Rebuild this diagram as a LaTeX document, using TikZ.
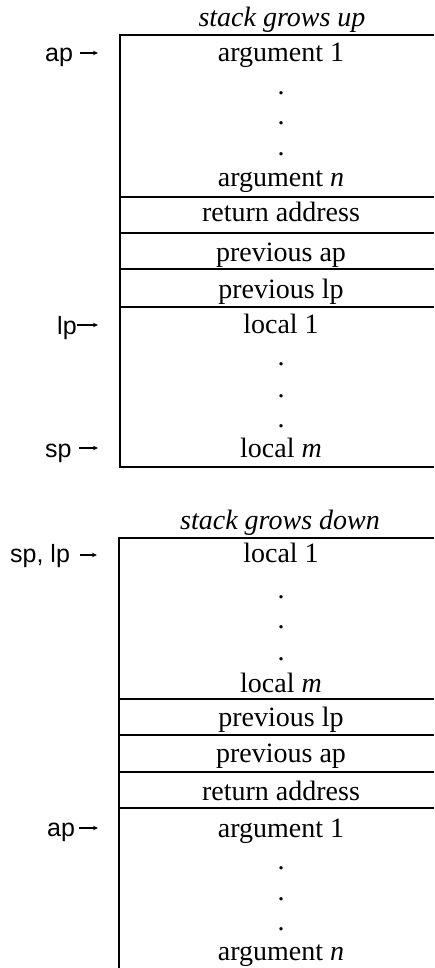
\documentclass[tikz,border=0pt]{standalone}
\usepackage{fontspec}
\setmainfont{Liberation Serif}
\newfontfamily\labfont{Liberation Sans}
\usetikzlibrary{arrows.meta}
\tikzset{
  cell/.style={font=\fontsize{28}{30}\selectfont, inner sep=0pt, anchor=base},
  ttl/.style={font=\fontsize{28}{30}\selectfont\itshape, inner sep=0pt, anchor=base},
  dotn/.style={font=\fontsize{28}{30}\selectfont, inner sep=0pt, anchor=base},
  lab/.style={font=\labfont\fontsize{25}{27}\selectfont, inner sep=0pt, anchor=base west},
  ptr/.style={-{Stealth[length=5pt,width=4.5pt]}, line width=1.3pt},
  rule/.style={line width=1.6pt}
}
\begin{document}
\begin{tikzpicture}[x=1pt,y=1pt]
\useasboundingbox (0,0) rectangle (434,-968);
% ---------- stack grows up ----------
\node[ttl] (t1) at (282,-27) {stack grows up};
\draw[rule] (434,-35) -- (120,-35) -- (120,-467) -- (434,-467);
\foreach \yy in {197,233,269,307} \draw[rule] (120,-\yy) -- (434,-\yy);
\node[cell] (a1) at (281,-62) {argument 1};
\node[dotn] (d1) at (281,-95) {.};
\node[dotn] (d2) at (281,-125) {.};
\node[dotn] (d3) at (281,-156) {.};
\node[cell] (an) at (281,-187) {argument \textit{n}};
\node[cell] (ra) at (281,-222) {return address};
\node[cell] (pa) at (281,-261) {previous ap};
\node[cell] (pl) at (281,-298) {previous lp};
\node[cell] (l1) at (281,-333) {local 1};
\node[dotn] (d4) at (281,-365) {.};
\node[dotn] (d5) at (281,-397) {.};
\node[dotn] (d6) at (281,-427) {.};
\node[cell] (lm) at (281,-457) {local \textit{m}};
\node[lab] (ap1) at (45,-62) {ap};
\coordinate (ap1e) at (98,-53);
\draw[ptr] (80,-53) -- (ap1e);
\node[lab] (lp1) at (57,-334) {lp};
\coordinate (lp1e) at (98,-325);
\draw[ptr] (77,-325) -- (lp1e);
\node[lab] (sp1) at (45,-457) {sp};
\coordinate (sp1e) at (98,-448);
\draw[ptr] (79,-448) -- (sp1e);
% ---------- stack grows down ----------
\node[ttl] (t2) at (280,-529) {stack grows down};
\draw[rule] (434,-538) -- (119,-538) -- (119,-968);
\foreach \yy in {699,735,772,808} \draw[rule] (119,-\yy) -- (434,-\yy);
\node[cell] (bl1) at (281,-562) {local 1};
\node[dotn] (bd1) at (281,-598) {.};
\node[dotn] (bd2) at (281,-628) {.};
\node[dotn] (bd3) at (281,-660) {.};
\node[cell] (blm) at (281,-692) {local \textit{m}};
\node[cell] (bpl) at (281,-726) {previous lp};
\node[cell] (bpa) at (281,-762) {previous ap};
\node[cell] (bra) at (281,-800) {return address};
\node[cell] (ba1) at (281,-837) {argument 1};
\node[dotn] (bd4) at (281,-869) {.};
\node[dotn] (bd5) at (281,-900) {.};
\node[dotn] (bd6) at (281,-930) {.};
\node[cell] (ban) at (281,-960) {argument \textit{n}};
\node[lab] (splp) at (10,-562) {sp, lp};
\coordinate (splpe) at (97,-555);
\draw[ptr] (80,-555) -- (splpe);
\node[lab] (ap2) at (47,-836) {ap};
\coordinate (ap2e) at (98,-828);
\draw[ptr] (79,-828) -- (ap2e);
\end{tikzpicture}
\end{document}
